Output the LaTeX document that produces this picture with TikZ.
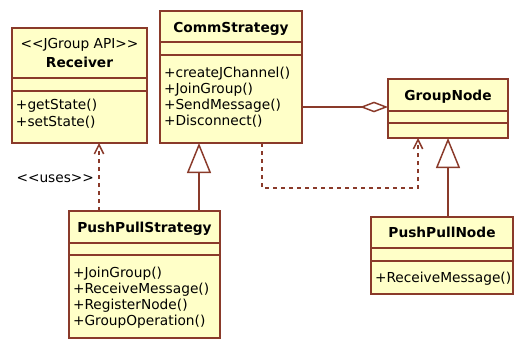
\documentclass[tikz,border=0pt]{standalone}
\usepackage{fontspec}
\setmainfont{DejaVu Sans}
\usetikzlibrary{arrows.meta,calc,fit}
\definecolor{umlfill}{HTML}{FFFFC8}
\definecolor{umlline}{HTML}{8A3A2A}
% plain double angle brackets, kept apart so they are not turned into guillemets
\newcommand{\dlt}{<\kern0pt<}
\newcommand{\dgt}{>\kern0pt>}
\begin{document}
\begin{tikzpicture}[x=0.75pt,y=-0.75pt,
  every node/.style={inner sep=0pt,outer sep=0pt,text=black,
    font=\fontsize{10.3pt}{12pt}\selectfont},
  classbox/.style={draw=umlline,fill=umlfill,line width=1.1pt,inner sep=0pt},
  classname/.style={anchor=base,font=\fontsize{10.3pt}{12pt}\selectfont\bfseries},
  stereo/.style={anchor=base},
  member/.style={anchor=base west},
  divider/.style={draw=umlline,line width=1.1pt},
  conn/.style={draw=umlline,line width=1.1pt},
  depend/.style={conn,dash pattern=on 3pt off 3pt,
    -{Straight Barb[length=7pt,width=7pt]}},
  inherit/.style={conn,-{Triangle[open,fill=white,length=22.5pt,width=18pt]}},
  aggr/.style={conn,-{Diamond[open,fill=white,length=21pt,width=8pt]}}]
\useasboundingbox (0,0) rectangle (514,339);
\fill[white] (0,0) rectangle (514,339);

% Receiver
\node[classbox,fit={(12,28) (147,143)}] (recv) {};
\draw[divider] (recv.west |- 0,78) -- (recv.east |- 0,78);
\draw[divider] (recv.west |- 0,91) -- (recv.east |- 0,91);
\node[stereo] (recvst) at (79.5,48) {\dlt JGroup API\dgt};
\node[classname] (recvnm) at (79.5,67) {Receiver};
\node[member] (recvm1) at (16,109) {+getState()};
\node[member] (recvm2) at (16,126) {+setState()};

% CommStrategy
\node[classbox,fit={(160,11) (302,143)}] (cs) {};
\draw[divider] (cs.west |- 0,42) -- (cs.east |- 0,42);
\draw[divider] (cs.west |- 0,55) -- (cs.east |- 0,55);
\node[classname] (csnm) at (231,32) {CommStrategy};
\node[member] (csm1) at (164,77) {+createJChannel()};
\node[member] (csm2) at (164,93) {+JoinGroup()};
\node[member] (csm3) at (164,109) {+SendMessage()};
\node[member] (csm4) at (164,125) {+Disconnect()};

% GroupNode
\node[classbox,fit={(388,79) (508,138)}] (gn) {};
\draw[divider] (gn.west |- 0,111) -- (gn.east |- 0,111);
\draw[divider] (gn.west |- 0,123) -- (gn.east |- 0,123);
\node[classname] (gnnm) at (448,100) {GroupNode};

% PushPullStrategy
\node[classbox,fit={(69,211) (220,338)}] (pps) {};
\draw[divider] (pps.west |- 0,243) -- (pps.east |- 0,243);
\draw[divider] (pps.west |- 0,255) -- (pps.east |- 0,255);
\node[classname] (ppsnm) at (144.5,232) {PushPullStrategy};
\node[member] (ppsm1) at (73,277) {+JoinGroup()};
\node[member] (ppsm2) at (73,293) {+ReceiveMessage()};
\node[member] (ppsm3) at (73,309) {+RegisterNode()};
\node[member] (ppsm4) at (73,325) {+GroupOperation()};

% PushPullNode
\node[classbox,fit={(371,217) (513,294)}] (ppn) {};
\draw[divider] (ppn.west |- 0,248) -- (ppn.east |- 0,248);
\draw[divider] (ppn.west |- 0,261) -- (ppn.east |- 0,261);
\node[classname] (ppnnm) at (442,237) {PushPullNode};
\node[member] (ppnm1) at (375,282) {+ReceiveMessage()};

% relations
\draw[depend] ($(pps.north west)+(30,0)$) -- ($(recv.south west)+(87,0)$);
\node[anchor=base east] (uses) at (94,182) {\dlt uses\dgt};
\draw[inherit] ($(pps.north west)+(130,0)$) -- ($(cs.south west)+(39,0)$);
\draw[depend] ($(cs.south west)+(102,0)$) -- ($(cs.south west)+(102,45)$)
  -| ($(gn.south west)+(30,0)$);
\draw[aggr] (cs.east |- 0,107) -- (gn.west |- 0,107);
\draw[inherit] (gn.south |- ppn.north) -- (gn.south);
\end{tikzpicture}
\end{document}
